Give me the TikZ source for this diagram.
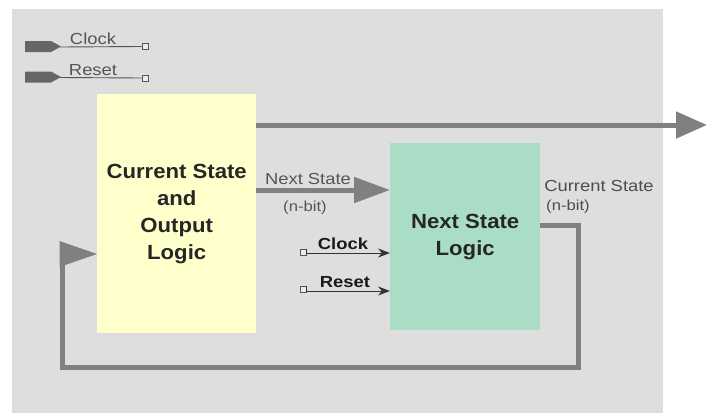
\documentclass[tikz,border=0pt]{standalone}
\usepackage{fontspec}
\setmainfont{Liberation Sans}
\newfontfamily\labfont[FakeStretch=1.15]{Liberation Sans}
\newfontfamily\boxfont[FakeStretch=1.08]{Liberation Sans}
\usetikzlibrary{arrows.meta}
\definecolor{bgc}{HTML}{DEDEDE}
\definecolor{ylw}{HTML}{FFFFCC}
\definecolor{grn}{HTML}{AADDC6}
\definecolor{wire}{HTML}{808080}
\definecolor{lab}{HTML}{555555}
\tikzset{
  blockbox/.style={draw=none, inner sep=0pt, anchor=north west, align=center,
    font=\boxfont\bfseries\fontsize{20.5}{27}\selectfont, text=black!85},
  smalllab/.style={inner sep=0pt, anchor=base, text=lab, font=\labfont\fontsize{16}{18}\selectfont},
  bitlab/.style={inner sep=0pt, anchor=base, text=lab, font=\labfont\fontsize{14.5}{16}\selectfont},
  boldlab/.style={inner sep=0pt, anchor=base, text=black!90, font=\labfont\bfseries\fontsize{16}{18}\selectfont},
  port/.style={draw=lab, fill=bgc!60, minimum size=6pt, inner sep=0pt, line width=0.8pt},
  bus/.style={draw=wire, line width=5pt},
  bighead/.style={-{Triangle[length=31pt,width=26pt]}},
}
\begin{document}
\begin{tikzpicture}[x=1pt,y=-1pt]
\useasboundingbox (0,0) rectangle (707,413);
\fill[white] (0,0) rectangle (707,413);
\fill[bgc] (12,9) rectangle (663,413);

% blocks
\node[blockbox, fill=ylw, minimum width=159pt, minimum height=239pt] (csol) at (97,94)
  {Current State\\and\\Output\\Logic};
\node[blockbox, fill=grn, minimum width=150pt, minimum height=187pt] (nsl) at (390,143)
  {Next State\\Logic};

% top-left inputs
\fill[lab!90] (25,41) -- (51,41) -- (61,46.5) -- (51,52) -- (25,52) -- cycle;
\fill[lab!90] (25,71.5) -- (51,71.5) -- (61,77) -- (51,82.5) -- (25,82.5) -- cycle;
\coordinate (ck0) at (60,47);
\coordinate (rs0) at (60,77.5);
\node[port] (ck1) at (145,46.5) {};
\node[port] (rs1) at (145,78) {};
\draw[lab, line width=0.9pt] (ck0) -- (ck1.west);
\draw[lab, line width=0.9pt] (rs0) -- (rs1.west);
\node[smalllab] (cklab) at (93,44) {Clock};
\node[smalllab] (rslab) at (93,75) {Reset};

% output arrow
\coordinate (out) at (707,125);
\draw[bus, bighead, fill=wire] (csol.east |- 0,125) -- (out);

% next state arrow
\draw[bus, -{Triangle[length=36pt,width=25pt]}, fill=wire] (csol.east |- 0,190) -- (nsl.west |- 0,190);
\node[smalllab] (nslab) at (308,184) {Next State};
\node[bitlab] (nsbit) at (305,211) {(n-bit)};

% clock / reset into next state logic
\node[port] (ck2) at (303,252) {};
\node[port] (rs2) at (303,289) {};
\draw[black!80, line width=0.9pt, -{Stealth[length=12pt,width=9pt]}] (ck2.north east) |- (nsl.west |- 0,253);
\draw[black!80, line width=0.9pt, -{Stealth[length=12pt,width=9pt]}] (rs2.north east) |- (nsl.west |- 0,291);
\node[boldlab] (ck2lab) at (343,249) {Clock};
\node[boldlab] (rs2lab) at (345,287) {Reset};

% feedback
\coordinate (fb1) at (578,367);
\coordinate (fb2) at (62,254);
\draw[bus, line join=miter] (nsl.east |- 0,225) -| (fb1) -| (fb2);
\fill[wire] (59.5,241) -- (csol.west |- 0,254) -- (59.5,267) -- cycle;
\node[smalllab, text=black!70] (cslab) at (599,191) {Current State};
\node[bitlab, text=black!70] (csbit) at (568,210) {(n-bit)};
\end{tikzpicture}
\end{document}
